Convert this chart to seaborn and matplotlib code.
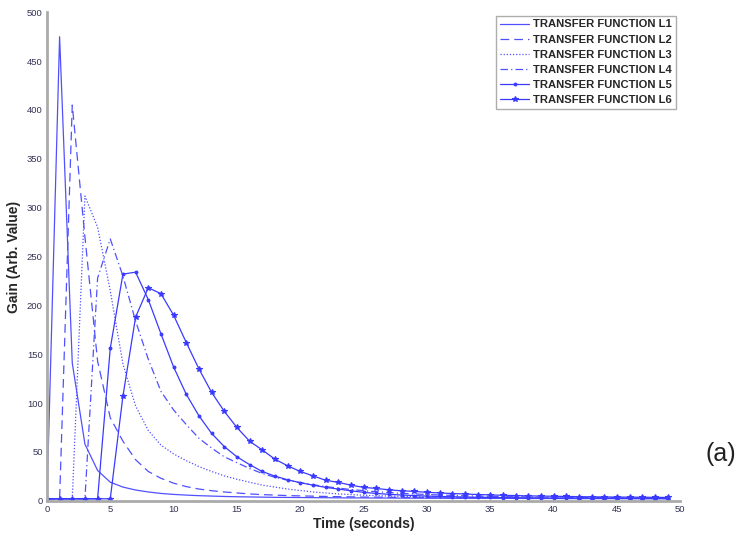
import numpy as np
import pandas as pd
import matplotlib
matplotlib.use("Agg")
import matplotlib.pyplot as plt
import seaborn as sns

# ---- data ----
time_s = list(range(0, 50))

L1 = [2, 475, 141, 58, 31, 19, 14, 11, 9, 7.5,
      6.5, 5.8, 5.2, 4.8, 4.4, 4.1, 3.9, 3.7, 3.5, 3.4,
      3.3, 3.2, 3.1, 3.0, 2.9, 2.9, 2.8, 2.8, 2.7, 2.7,
      2.6, 2.6, 2.5, 2.5, 2.5, 2.4, 2.4, 2.4, 2.3, 2.3,
      2.3, 2.2, 2.2, 2.2, 2.2, 2.1, 2.1, 2.1, 2.1, 2.0]
L2 = [2, 2, 405, 270, 143, 85, 61, 42, 30, 23,
      18, 14.5, 12, 10.3, 9, 8, 7, 6.3, 5.8, 5.3,
      5.0, 4.7, 4.4, 4.2, 4.0, 3.8, 3.7, 3.5, 3.4, 3.3,
      3.2, 3.1, 3.0, 3.0, 2.9, 2.9, 2.8, 2.8, 2.7, 2.7,
      2.6, 2.6, 2.6, 2.5, 2.5, 2.5, 2.4, 2.4, 2.4, 2.4]
L3 = [2, 2, 2, 312, 280, 215, 140, 97, 72, 57,
      48, 41, 35, 30, 25.5, 22, 19, 16, 14, 12,
      10.5, 9, 8, 7, 6.3, 5.7, 5.2, 4.8, 4.5, 4.2,
      4.0, 3.8, 3.6, 3.5, 3.4, 3.3, 3.2, 3.1, 3.0, 2.9,
      2.9, 2.8, 2.8, 2.7, 2.7, 2.6, 2.6, 2.6, 2.5, 2.5]
L4 = [2, 2, 2, 2, 228, 268, 230, 184, 145, 112,
      93, 78, 64, 54, 45, 39, 33, 28, 24, 21,
      18.5, 16.5, 14.5, 13, 11.5, 10.3, 9.3, 8.4, 7.6, 7.0,
      6.4, 5.9, 5.5, 5.1, 4.8, 4.5, 4.3, 4.1, 3.9, 3.7,
      3.6, 3.5, 3.4, 3.3, 3.2, 3.1, 3.0, 3.0, 2.9, 2.9]
L5 = [2, 2, 2, 2, 2, 156, 232, 234, 206, 171,
      137, 109, 87, 69, 55.5, 45, 37, 30, 25.2, 21.5,
      18.5, 16, 13.7, 12, 10.2, 8.6, 7.5, 6.6, 5.9, 5.3,
      4.8, 4.4, 4.1, 3.8, 3.6, 3.4, 3.2, 3.0, 2.9, 2.8,
      2.7, 2.6, 2.6, 2.5, 2.5, 2.4, 2.4, 2.3, 2.3, 2.3]
L6 = [2, 2, 2, 2, 2, 2, 107, 188, 218, 212,
      190, 162, 135, 111, 91.6, 75, 61, 52, 42.6, 35.8,
      30, 25.5, 21, 18.8, 16, 13.7, 12.6, 11.2, 10.2, 9.6,
      8.6, 8.0, 7.4, 6.9, 6.4, 6.0, 5.6, 5.3, 5.0, 4.8,
      4.6, 4.4, 4.2, 4.0, 3.9, 3.8, 3.7, 3.6, 3.5, 3.4]

series_names = ["TRANSFER FUNCTION L1", "TRANSFER FUNCTION L2", "TRANSFER FUNCTION L3",
                "TRANSFER FUNCTION L4", "TRANSFER FUNCTION L5", "TRANSFER FUNCTION L6"]
series_values = [L1, L2, L3, L4, L5, L6]
x_ticks = [0, 5, 10, 15, 20, 25, 30, 35, 40, 45, 50]
y_ticks = [0, 50, 100, 150, 200, 250, 300, 350, 400, 450, 500]

# ---- styling ----
sns.set_style("white")
plt.rcParams['font.family'] = ['Liberation Sans', 'DejaVu Sans']

styles = [
    dict(linestyle='-', marker=None, color="#5050ff"),
    dict(linestyle=(0, (7, 4)), marker=None, color="#5050ff"),
    dict(linestyle=(0, (1, 1.5)), marker=None, color="#5050ff"),
    dict(linestyle=(0, (6, 2.5, 1, 2.5)), marker=None, color="#5050ff"),
    dict(linestyle='-', marker='.', markersize=4, color="#3a3aff"),
    dict(linestyle='-', marker='*', markersize=4, color="#3a3aff"),
]

fig = plt.figure(figsize=(7.45, 5.35), dpi=100)
ax = fig.add_axes([0.063, 0.064, 0.850, 0.913])

for name, vals, st in zip(series_names, series_values, styles):
    df = pd.DataFrame({"t": time_s, "v": vals})
    kw = dict(linestyle=st['linestyle'], linewidth=0.9, color=st['color'])
    if st['marker']:
        kw.update(marker=st['marker'], markersize=st['markersize'],
                  markeredgecolor=st['color'], markerfacecolor=st['color'],
                  markeredgewidth=0.8)
    sns.lineplot(data=df, x="t", y="v", ax=ax, label=name, **kw)

ax.set_xlim(0, 50)
ax.set_ylim(0, 500)
ax.set_xticks(x_ticks)
ax.set_yticks(y_ticks)
ax.tick_params(direction='in', length=4, width=0.8, labelsize=6.8,
               colors='#555555', labelcolor='#333355', pad=3)
for s in ['top', 'right']:
    ax.spines[s].set_visible(False)
for s in ['left', 'bottom']:
    ax.spines[s].set_color('#aaaaaa')
    ax.spines[s].set_linewidth(2.0)

ax.set_xlabel("Time (seconds)", fontsize=10, fontweight='bold', labelpad=2)
ax.set_ylabel("Gain (Arb. Value)", fontsize=10, fontweight='bold', labelpad=4)

leg = ax.legend(loc='upper right', bbox_to_anchor=(0.997, 0.998),
                prop={'weight': 'bold', 'size': 8.1}, frameon=True, fancybox=False,
                handlelength=2.6, handletextpad=0.35, labelspacing=0.45,
                borderpad=0.35, borderaxespad=0.2)
leg.get_frame().set_edgecolor('#999999')
leg.get_frame().set_linewidth(1.0)

fig.text(0.968, 0.152, "(a)", fontsize=18, ha='center', va='center', color='#222222')

fig.savefig("out.png", dpi=100)
